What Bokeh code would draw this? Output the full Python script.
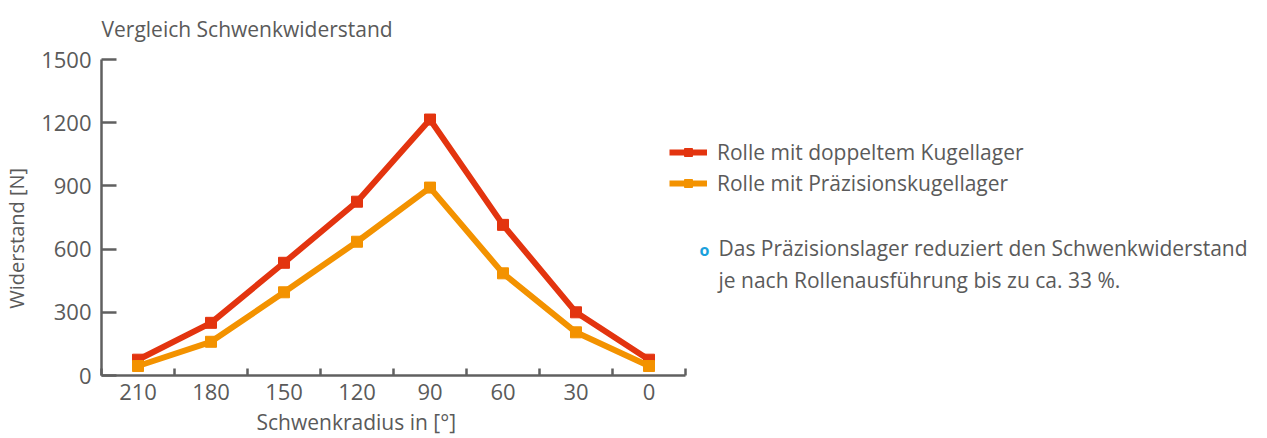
from bokeh.plotting import figure
from bokeh.models import Range1d, FixedTicker, Label, Legend, LegendItem, Title
from bokeh.embed import file_html
from bokeh.resources import INLINE

# ---- data ----
categories = ["210", "180", "150", "120", "90", "60", "30", "0"]
doppelt = [75, 250, 535, 825, 1215, 715, 300, 75]
praezision = [45, 160, 395, 635, 892, 485, 205, 45]
y_ticks = [0, 300, 600, 900, 1200, 1500]
series_names = ["Rolle mit doppeltem Kugellager", "Rolle mit Präzisionskugellager"]
title_text = "Vergleich Schwenkwiderstand"
x_title = "Schwenkradius in [°]"
y_title = "Widerstand [N]"
note_lines = ["Das Präzisionslager reduziert den Schwenkwiderstand",
              "je nach Rollenausführung bis zu ca. 33 %."]

FONT = "Open Sans"
TXT = "#5a5a5a"
AX = "#606060"
RED = "#E3340F"
ORANGE = "#F39200"
BLUE = "#1AA0DC"

CAT_PX = 73          # pixel width of one category slot
FRAME_W = 1155       # frame extended to the right to host legend + note
n = len(categories)
x = list(range(n))

p = figure(frame_width=FRAME_W, frame_height=316,
           min_border_left=97, min_border_right=4,
           min_border_top=59, min_border_bottom=50,
           x_range=Range1d(-0.5, -0.5 + FRAME_W / CAT_PX),
           y_range=Range1d(0, 1500),
           output_backend="svg", toolbar_location=None)
p.outline_line_color = None
p.xgrid.visible = False
p.ygrid.visible = False
p.background_fill_color = "white"
p.border_fill_color = "white"

# title
p.title.text = title_text
p.title.align = "left"
p.title.offset = 0
p.title.text_font = FONT
p.title.text_font_size = "21px"
p.title.text_font_style = "normal"
p.title.text_color = TXT
p.title.vertical_align = "top"
p.title.standoff = 29

# y axis
ya = p.yaxis[0]
ya.bounds = (0, 1500)
ya.ticker = FixedTicker(ticks=y_ticks)
ya.major_tick_in = 15
ya.major_tick_out = 0
ya.minor_tick_in = 0
ya.minor_tick_out = 0
ya.axis_line_width = 2.5
ya.axis_line_color = AX
ya.major_tick_line_width = 2.5
ya.major_tick_line_color = AX
ya.major_label_text_font = FONT
ya.major_label_text_font_size = "22px"
ya.major_label_text_color = TXT
ya.major_label_standoff = 10
ya.axis_label = y_title + "\u00a0" * 8
ya.axis_label_text_font = FONT
ya.axis_label_text_font_size = "20px"
ya.axis_label_text_font_style = "normal"
ya.axis_label_text_color = TXT
ya.axis_label_standoff = 8

# x axis
xa = p.xaxis[0]
xa.bounds = (-0.5, n - 0.5)
xa.ticker = FixedTicker(ticks=x, minor_ticks=[i + 0.5 for i in range(-1, n)])
xa.major_label_overrides = {i: c for i, c in enumerate(categories)}
xa.major_tick_in = 0
xa.major_tick_out = 0
xa.minor_tick_in = 7
xa.minor_tick_out = 0
xa.minor_tick_line_width = 2.5
xa.minor_tick_line_color = AX
xa.axis_line_width = 2.5
xa.axis_line_color = AX
xa.major_label_text_font = FONT
xa.major_label_text_font_size = "22px"
xa.major_label_text_color = TXT
xa.major_label_standoff = 8

# x axis title below the axis
p.add_layout(Title(text=x_title, align="left", offset=155, text_font=FONT,
                   text_font_size="21px", text_font_style="normal",
                   text_color=TXT, standoff=7), "below")

# series
r1 = p.line(x, doppelt, line_color=RED, line_width=6)
m1 = p.scatter(x, doppelt, marker="square", size=11, fill_color=RED, line_color=RED)
r2 = p.line(x, praezision, line_color=ORANGE, line_width=6)
m2 = p.scatter(x, praezision, marker="square", size=11, fill_color=ORANGE, line_color=ORANGE)

legend = Legend(items=[LegendItem(label=series_names[0], renderers=[r1, m1]),
                       LegendItem(label=series_names[1], renderers=[r2, m2])],
                location=(568, 178), orientation="vertical",
                glyph_width=38, glyph_height=20, label_height=20, spacing=3,
                label_standoff=10, padding=0, margin=0,
                border_line_color=None, background_fill_alpha=0,
                label_text_font=FONT, label_text_font_size="21px",
                label_text_color=TXT)
p.add_layout(legend)

# note with bullet
p.add_layout(Label(x=7.76, y=598, text="o", text_font=FONT,
                   text_font_size="16px", text_font_style="bold", text_color=BLUE,
                   text_baseline="middle", text_align="center"))
for i, line in enumerate(note_lines):
    p.add_layout(Label(x=7.952, y=607 - i * 152, text=line, text_font=FONT,
                       text_font_size="21px", text_color=TXT, text_baseline="middle",
                       text_align="left"))

open("out.html", "w").write(file_html(p, INLINE))
